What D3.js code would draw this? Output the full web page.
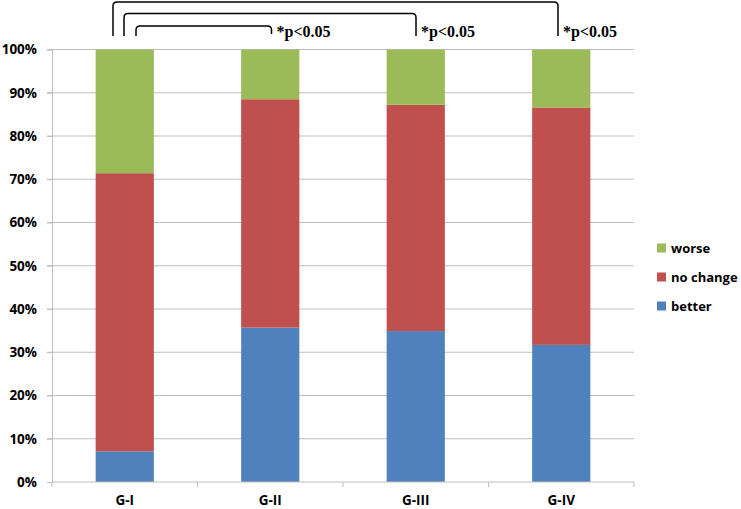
<!DOCTYPE html>
<html><head><meta charset="utf-8">
<script src="https://cdn.jsdelivr.net/npm/d3@7"></script>
<style>body{margin:0;background:#fff}svg{display:block}</style>
</head><body><svg id="c" width="741" height="509"></svg>
<script>
const categories = ["G-I", "G-II", "G-III", "G-IV"];
const better = [7.1, 35.7, 34.9, 31.7];
const noChange = [64.3, 52.8, 52.3, 54.9];
const worse = [28.6, 11.5, 12.8, 13.4];
const seriesNames = ["better", "no change", "worse"];
const seriesColors = ["#4F81BD", "#C0504D", "#9BBB59"];
const yTicks = [0, 10, 20, 30, 40, 50, 60, 70, 80, 90, 100];
const sigLabel = "*p<0.05";
// comparisons: G-I vs G-II, G-III, G-IV
const comparisons = [["G-I", "G-II"], ["G-I", "G-III"], ["G-I", "G-IV"]];

const svg = d3.select("#c");
const m = {l: 52, r: 634, t: 49.5, b: 482};
const x = d3.scaleBand().domain(categories).range([m.l, m.r]).paddingInner(0.6).paddingOuter(0.3);
const xb = d3.scaleBand().domain(categories).range([m.l, m.r]);
const y = d3.scaleLinear().domain([0, 100]).range([m.b, m.t]);

const font = "'Open Sans', sans-serif";

// gridlines
svg.append("g").selectAll("line").data(yTicks.filter(d => d > 0)).join("line")
  .attr("x1", m.l - 5).attr("x2", m.r).attr("y1", d => y(d)).attr("y2", d => y(d))
  .attr("stroke", "#BFBFBF").attr("stroke-width", 1);

// y axis
const yAxis = svg.append("g").attr("transform", `translate(${m.l},0)`)
  .call(d3.axisLeft(y).tickValues(yTicks).tickFormat(d => d + "%").tickSize(5).tickPadding(10));
yAxis.select(".domain").attr("stroke", "#BFBFBF");
yAxis.selectAll(".tick line").attr("stroke", "#BFBFBF");
yAxis.selectAll("text").attr("font-family", font).attr("font-weight", "bold").attr("font-size", "13.5px").attr("fill", "#000");

// stacked data
const rows = categories.map((c, i) => ({cat: c, "better": better[i], "no change": noChange[i], "worse": worse[i]}));
const stack = d3.stack().keys(seriesNames)(rows);
svg.append("g").selectAll("g").data(stack).join("g")
  .attr("fill", (d, i) => seriesColors[i])
  .selectAll("rect").data(d => d).join("rect")
  .attr("x", d => x(d.data.cat)).attr("width", x.bandwidth())
  .attr("y", d => y(d[1])).attr("height", d => y(d[0]) - y(d[1]));

// x axis
const xAxis = svg.append("g").attr("transform", `translate(0,${m.b})`)
  .call(d3.axisBottom(xb).tickSize(0).tickPadding(13));
xAxis.select(".domain").attr("stroke", "#BFBFBF").attr("d", `M${m.l},0H${m.r}`);
xAxis.selectAll("text").attr("font-family", font).attr("font-weight", "bold").attr("font-size", "13.5px").attr("fill", "#000");
svg.append("g").selectAll("line").data(d3.range(categories.length + 1)).join("line")
  .attr("x1", i => m.l + i * xb.step()).attr("x2", i => m.l + i * xb.step())
  .attr("y1", m.b).attr("y2", m.b + 5).attr("stroke", "#BFBFBF");

// legend
const legendOrder = [2, 1, 0];
const lg = svg.append("g");
legendOrder.forEach((si, k) => {
  const cy = 248 + k * 29;
  lg.append("rect").attr("x", 657).attr("y", cy - 4.5).attr("width", 9).attr("height", 9).attr("fill", seriesColors[si]);
  lg.append("text").attr("x", 671).attr("y", cy).attr("dy", "0.35em")
    .attr("font-family", font).attr("font-weight", "bold").attr("font-size", "13px").text(seriesNames[si]);
});

// significance brackets
const leftXs = [136, 124, 113];
const tops = [26, 13.5, 2];
const rightEnds = [271.5, 416, 558];
comparisons.forEach((cmp, k) => {
  const lx = leftXs[k], rx = rightEnds[k], ty = tops[k], by = 36, r = 4;
  const p = d3.path();
  p.moveTo(lx, by);
  p.lineTo(lx, ty + r);
  p.quadraticCurveTo(lx, ty, lx + r, ty);
  p.lineTo(rx - r, ty);
  p.quadraticCurveTo(rx, ty, rx, ty + r);
  p.lineTo(rx, by - (k === 0 ? 2 : 0));
  svg.append("path").attr("d", p.toString()).attr("fill", "none").attr("stroke", "#000").attr("stroke-width", 1.5);
  svg.append("text").attr("x", rx + 5).attr("y", 37)
    .attr("font-family", "'Liberation Serif', 'Times New Roman', serif").attr("font-weight", "bold")
    .attr("font-size", "16px").text(sigLabel);
});
</script></body></html>
